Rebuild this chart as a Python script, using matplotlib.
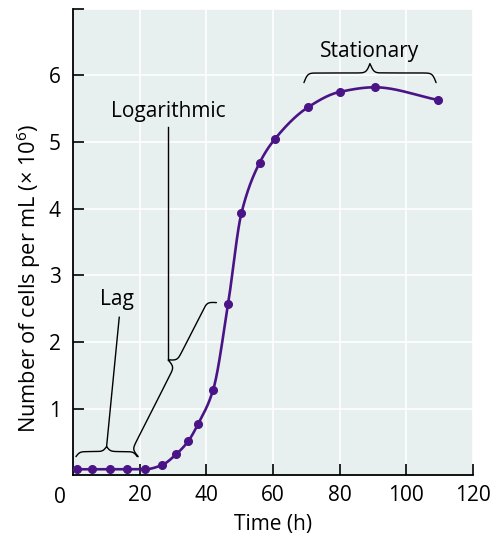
import numpy as np
import matplotlib
matplotlib.use("Agg")
import matplotlib.pyplot as plt

plt.rcParams['font.family'] = ['Open Sans', 'DejaVu Sans']
plt.rcParams['mathtext.fontset'] = 'custom'
plt.rcParams['mathtext.rm'] = 'Open Sans'
plt.rcParams['mathtext.it'] = 'Open Sans'

# growth curve
time_h = [1, 5.5, 11, 16, 21.5, 26.5, 31, 34.5, 37.5, 42, 46.5, 50.5, 56, 60.5, 70.5, 80, 90.5, 109.5]
cells = [0.09, 0.09, 0.09, 0.09, 0.09, 0.15, 0.32, 0.51, 0.77, 1.28, 2.57, 3.93, 4.69, 5.04, 5.52, 5.75, 5.82, 5.63]

x_ticks = [20, 40, 60, 80, 100, 120]
y_ticks = [1, 2, 3, 4, 5, 6, 7]
y_labels = ['1', '2', '3', '4', '5', '6', '']

PURPLE = '#4a1487'
BG = '#e7f0ee'
FS = 15

# px per unit on each axis (both scales are equal on screen)
SX, SY = 400 / 120, 466.7 / 7


def pchip(x, y, xs):
    x = np.asarray(x, float); y = np.asarray(y, float)
    h = np.diff(x); d = np.diff(y) / h
    m = np.zeros_like(y)
    for k in range(1, len(x) - 1):
        if d[k - 1] * d[k] > 0:
            w1 = 2 * h[k] + h[k - 1]; w2 = h[k] + 2 * h[k - 1]
            m[k] = (w1 + w2) / (w1 / d[k - 1] + w2 / d[k])
    m[0] = d[0]; m[-1] = d[-1]
    idx = np.clip(np.searchsorted(x, xs) - 1, 0, len(h) - 1)
    t = (xs - x[idx]) / h[idx]
    h00 = 2 * t**3 - 3 * t**2 + 1; h10 = t**3 - 2 * t**2 + t
    h01 = -2 * t**3 + 3 * t**2; h11 = t**3 - t**2
    return h00 * y[idx] + h10 * h[idx] * m[idx] + h01 * y[idx + 1] + h11 * h[idx] * m[idx + 1]


def brace(ax, p0, p1, height, frac=0.5, beta=0.55):
    # curly brace between two data points, drawn in screen-like units
    a = np.array([p0[0] * SX, p0[1] * SY]); b = np.array([p1[0] * SX, p1[1] * SY])
    L = np.hypot(*(b - a)); u = (b - a) / L; n = np.array([-u[1], u[0]])
    s = np.linspace(0, L, 600); tip = frac * L
    sig = lambda v: 1 / (1 + np.exp(-beta * v))
    shape = np.where(s <= tip, sig(s) + sig(s - tip), sig(L - s) + sig(tip - s)) - 0.5
    shape = shape / shape.max() * height
    pts = a[None, :] + s[:, None] * u[None, :] + shape[:, None] * n[None, :]
    ax.plot(pts[:, 0] / SX, pts[:, 1] / SY, color='black', lw=1.0, solid_capstyle='round', zorder=3)
    t = a + tip * u + height * n
    return t[0] / SX, t[1] / SY


fig = plt.figure(figsize=(4.94, 5.35), dpi=100)
ax = fig.add_axes([0.1484, 0.1116, 0.8085, 0.8723])
ax.set_facecolor(BG)

xs = np.linspace(time_h[0], time_h[-1], 800)
ax.plot(xs, pchip(time_h, cells, xs), color=PURPLE, lw=1.9, zorder=4)
ax.plot(time_h, cells, 'o', color=PURPLE, ms=5.5, zorder=5)

ax.set_xlim(0, 120)
ax.set_ylim(0, 7)
ax.set_xticks(x_ticks)
ax.set_yticks(y_ticks)
ax.set_yticklabels(y_labels)
ax.grid(True, color='white', lw=1.2)
ax.set_axisbelow(True)
for side in ['top', 'right']:
    ax.spines[side].set_visible(False)
for side in ['left', 'bottom']:
    ax.spines[side].set_linewidth(1.3)
ax.tick_params(direction='in', length=8, width=1.2, labelsize=FS)
ax.tick_params(axis='x', pad=7)
ax.tick_params(axis='y', pad=9)
ax.text(-4, -0.025, '0', transform=ax.get_xaxis_transform(), ha='center', va='top', fontsize=FS)

ax.set_xlabel('Time (h)', fontsize=FS, labelpad=5.5)
ax.set_ylabel('Number of cells per mL (× 10$^{6}$)', fontsize=15.7)
ax.yaxis.set_label_coords(-0.077, 0.421)

# phase labels
tx, ty = brace(ax, (0.8, 0.28), (19.2, 0.28), 10)
ax.plot([tx, 13.8], [ty, 2.37], color='black', lw=1.0, zorder=3)
ax.text(13.1, 2.63, 'Lag', ha='center', va='center', fontsize=FS)

tx, ty = brace(ax, (19.5, 0.28), (43.0, 2.59), 17, frac=0.578)
ax.plot([tx, tx], [ty, 5.23], color='black', lw=1.0, zorder=3)
ax.text(tx, 5.45, 'Logarithmic', ha='center', va='center', fontsize=FS)

brace(ax, (109.0, 5.89), (69.3, 5.89), -19)
ax.text(89.0, 6.35, 'Stationary', ha='center', va='center', fontsize=FS)

fig.savefig('out.png', dpi=100)
